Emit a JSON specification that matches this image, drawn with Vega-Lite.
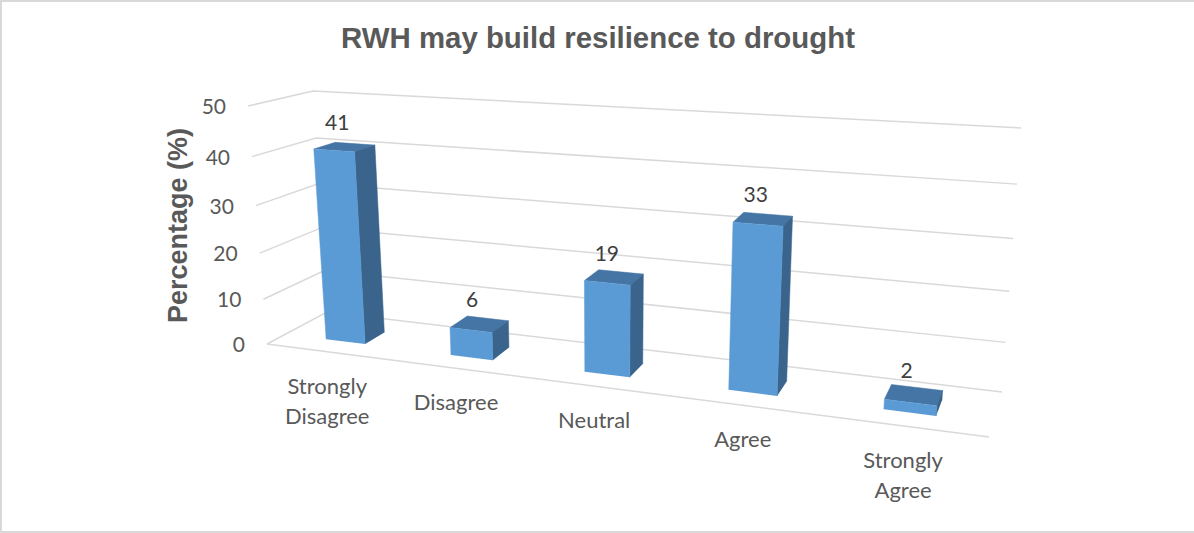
{
  "$schema": "https://vega.github.io/schema/vega-lite/v6.json",
  "width": 1194,
  "height": 533,
  "padding": 0,
  "autosize": "none",
  "background": "white",
  "view": {"stroke": null},
  "title": {
    "text": "RWH may build resilience to drought",
    "anchor": "middle",
    "frame": "group",
    "font": "Liberation Sans",
    "fontSize": 29.4,
    "fontWeight": "bold",
    "color": "#595959",
    "baseline": "middle",
    "offset": 0,
    "dy": 76,
    "dx": 1
  },
  "datasets": {
    "answers": [
      {"answer": "Strongly Disagree", "percent": 41},
      {"answer": "Disagree", "percent": 6},
      {"answer": "Neutral", "percent": 19},
      {"answer": "Agree", "percent": 33},
      {"answer": "Strongly Agree", "percent": 2}
    ],
    "ticks": [
      {"tick": 0}, {"tick": 10}, {"tick": 20}, {"tick": 30}, {"tick": 40}, {"tick": 50}
    ]
  },
  "params": [
    {"name": "xFL", "value": [267, 248]},
    {"name": "xBL", "value": [327, 313]},
    {"name": "xFR", "value": [989, 1011]},
    {"name": "xBR", "value": [1002, 1021]},
    {"name": "yFL", "value": [344, 106]},
    {"name": "yBL", "value": [312, 91]},
    {"name": "yFR", "value": [437, 153]},
    {"name": "yBR", "value": [392, 128]}
  ],
  "encoding": {
    "x": {"field": "px", "type": "quantitative", "scale": {"domain": [0, 1194], "nice": false, "zero": false}, "axis": null},
    "y": {
      "field": "py",
      "type": "quantitative",
      "scale": {"domain": [533, 0], "nice": false, "zero": false},
      "axis": {
        "title": "Percentage (%)",
        "titleFont": "Liberation Sans",
        "titleFontSize": 27,
        "titleFontWeight": "bold",
        "titleColor": "#595959",
        "titleAngle": -90,
        "titleX": 178,
        "titleY": 225,
        "titleAlign": "center",
        "titleBaseline": "middle",
        "labels": false,
        "ticks": false,
        "domain": false,
        "grid": false
      }
    }
  },
  "layer": [
    {
      "description": "Frame on the left, top and bottom of the chart",
      "data": {"values": [{"corner": 0}, {"corner": 1}, {"corner": 2}, {"corner": 3}]},
      "transform": [
        {"calculate": "datum.corner == 1 || datum.corner == 2 ? 0 : 1194", "as": "px"},
        {"calculate": "datum.corner < 2 ? 0 : 533", "as": "py"}
      ],
      "mark": {"type": "line", "color": "#d9d9d9", "strokeWidth": 4, "clip": false},
      "encoding": {"order": {"field": "corner"}}
    },
    {
      "description": "Wall and floor gridlines: front-left, back-left, back-right",
      "data": {"name": "ticks"},
      "transform": [
        {"calculate": "[0,1,2]", "as": "k"},
        {"flatten": ["k"]},
        {"calculate": "datum.k == 2 ? 1 : 0", "as": "s"},
        {"calculate": "datum.k == 0 ? 0 : 1", "as": "d"},
        {"calculate": "(datum.tick/50) / (datum.tick/50 + 1.08*(1 - datum.tick/50))", "as": "t"},
        {"calculate": "lerp([lerp([lerp(xFL,datum.t),lerp(xBL,datum.t)],datum.d),lerp([lerp(xFR,datum.t),lerp(xBR,datum.t)],datum.d)],datum.s)", "as": "px"},
        {"calculate": "lerp([lerp([lerp(yFL,datum.t),lerp(yBL,datum.t)],datum.d),lerp([lerp(yFR,datum.t),lerp(yBR,datum.t)],datum.d)],datum.s)", "as": "py"}
      ],
      "mark": {"type": "line", "color": "#d9d9d9", "strokeWidth": 1.5},
      "encoding": {
        "detail": {"field": "tick"},
        "order": {"field": "k"}
      }
    },
    {
      "description": "Front edge of the floor",
      "data": {"name": "ticks"},
      "transform": [
        {"filter": "datum.tick == 0"},
        {"calculate": "[0,1]", "as": "k"},
        {"flatten": ["k"]},
        {"calculate": "lerp([lerp(xFL,0),lerp(xFR,0)],datum.k)", "as": "px"},
        {"calculate": "lerp([lerp(yFL,0),lerp(yFR,0)],datum.k)", "as": "py"}
      ],
      "mark": {"type": "line", "color": "#d9d9d9", "strokeWidth": 1.5},
      "encoding": {"order": {"field": "k"}}
    },
    {
      "description": "Value axis labels",
      "data": {"name": "ticks"},
      "transform": [
        {"calculate": "(datum.tick/50) / (datum.tick/50 + 1.08*(1 - datum.tick/50))", "as": "t"},
        {"calculate": "lerp(xFL,datum.t)", "as": "px"},
        {"calculate": "lerp(yFL,datum.t)", "as": "py"}
      ],
      "mark": {"type": "text", "font": "Lato", "fontSize": 21, "color": "#595959", "align": "right", "baseline": "middle", "dx": -22, "dy": 2},
      "encoding": {"text": {"field": "tick", "type": "quantitative"}}
    },
    {
      "description": "Three visible faces of each 3D column",
      "data": {"name": "answers"},
      "transform": [
        {"window": [{"op": "row_number", "as": "n"}]},
        {"calculate": "(datum.n - 0.5)/5", "as": "c"},
        {"calculate": "['top','side','front']", "as": "face"},
        {"flatten": ["face"]},
        {"calculate": "[0,1,2,3]", "as": "k"},
        {"flatten": ["k"]},
        {"calculate": "datum.face == 'side' || datum.k >= 2 ? datum.c + 0.032 : datum.c - 0.032", "as": "u"},
        {"calculate": "datum.u / (datum.u + 1.2*(1 - datum.u))", "as": "s"},
        {"calculate": "datum.face == 'front' ? 0.31 : datum.face == 'side' ? (datum.k < 2 ? 0.31 : 0.66) : ((datum.k == 1 || datum.k == 2) ? 0.66 : 0.31)", "as": "d"},
        {"calculate": "datum.face == 'top' || datum.k == 1 || datum.k == 2 ? (datum.percent/50) / (datum.percent/50 + 1.08*(1 - datum.percent/50)) : 0", "as": "t"},
        {"calculate": "lerp([lerp([lerp(xFL,datum.t),lerp(xBL,datum.t)],datum.d),lerp([lerp(xFR,datum.t),lerp(xBR,datum.t)],datum.d)],datum.s)", "as": "px"},
        {"calculate": "lerp([lerp([lerp(yFL,datum.t),lerp(yBL,datum.t)],datum.d),lerp([lerp(yFR,datum.t),lerp(yBR,datum.t)],datum.d)],datum.s)", "as": "py"}
      ],
      "mark": {"type": "line", "strokeWidth": 0.5},
      "encoding": {
        "detail": {"field": "answer"},
        "order": {"field": "k"},
        "fill": {"field": "face", "type": "nominal", "scale": {"domain": ["front", "side", "top"], "range": ["#5b9bd5", "#3a648c", "#4475a5"]}, "legend": null},
        "stroke": {"field": "face", "type": "nominal", "scale": {"domain": ["front", "side", "top"], "range": ["#5b9bd5", "#3a648c", "#4475a5"]}, "legend": null}
      }
    },
    {
      "description": "Value labels above the columns",
      "data": {"name": "answers"},
      "transform": [
        {"window": [{"op": "row_number", "as": "n"}]},
        {"calculate": "(datum.n - 0.5)/5", "as": "u"},
        {"calculate": "datum.u / (datum.u + 1.2*(1 - datum.u))", "as": "s"},
        {"calculate": "0.48", "as": "d"},
        {"calculate": "(datum.percent/50) / (datum.percent/50 + 1.08*(1 - datum.percent/50))", "as": "t"},
        {"calculate": "lerp([lerp([lerp(xFL,datum.t),lerp(xBL,datum.t)],datum.d),lerp([lerp(xFR,datum.t),lerp(xBR,datum.t)],datum.d)],datum.s)", "as": "px"},
        {"calculate": "lerp([lerp([lerp(yFL,datum.t),lerp(yBL,datum.t)],datum.d),lerp([lerp(yFR,datum.t),lerp(yBR,datum.t)],datum.d)],datum.s)", "as": "py"}
      ],
      "mark": {"type": "text", "font": "Lato", "fontSize": 21, "color": "#404040", "align": "center", "baseline": "middle", "dx": -7, "dy": -23},
      "encoding": {"text": {"field": "percent", "type": "quantitative"}}
    },
    {
      "description": "Category labels below the floor's front edge",
      "data": {"name": "answers"},
      "transform": [
        {"window": [{"op": "row_number", "as": "n"}]},
        {"calculate": "(datum.n - 0.5)/5", "as": "u"},
        {"calculate": "datum.u / (datum.u + 1.2*(1 - datum.u))", "as": "s"},
        {"calculate": "lerp([lerp(xFL,0),lerp(xFR,0)],datum.s)", "as": "px"},
        {"calculate": "lerp([lerp(yFL,0),lerp(yFR,0)],datum.s)", "as": "py"}
      ],
      "mark": {"type": "text", "font": "Lato", "fontSize": 22, "color": "#595959", "align": "center", "baseline": "top", "dx": -1, "dy": 25, "lineBreak": " ", "lineHeight": 30},
      "encoding": {"text": {"field": "answer", "type": "nominal"}}
    }
  ]
}
